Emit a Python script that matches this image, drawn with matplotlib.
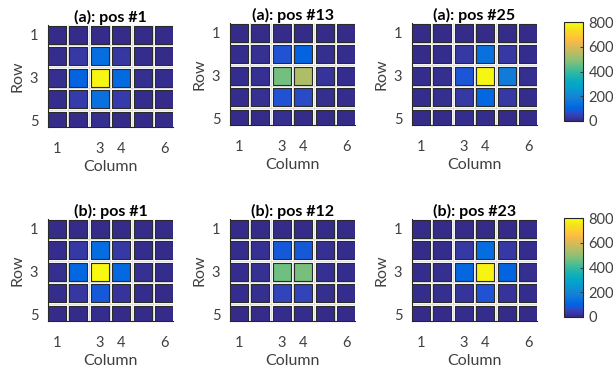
import numpy as np
import matplotlib
matplotlib.use("Agg")
import matplotlib.pyplot as plt
from matplotlib.colors import LinearSegmentedColormap

plt.rcParams['font.family'] = ['Lato', 'DejaVu Sans']

rows = [1, 2, 3, 4, 5]
cols = [1, 2, 3, 4, 5, 6]
titles = ["(a): pos #1", "(a): pos #13", "(a): pos #25",
          "(b): pos #1", "(b): pos #12", "(b): pos #23"]

# counts per cell (row 1..5, column 1..6)
a_pos1 = [[5, 5, 5, 5, 5, 5],
          [8, 30, 130, 25, 8, 5],
          [12, 100, 780, 120, 12, 8],
          [8, 35, 140, 35, 8, 5],
          [5, 5, 10, 5, 5, 5]]
a_pos13 = [[5, 5, 5, 5, 5, 5],
           [8, 15, 75, 100, 12, 8],
           [8, 15, 465, 535, 20, 8],
           [8, 15, 75, 65, 10, 8],
           [5, 5, 10, 5, 5, 5]]
a_pos25 = [[5, 5, 5, 5, 5, 5],
           [5, 8, 30, 140, 30, 8],
           [8, 10, 80, 780, 170, 10],
           [8, 10, 30, 110, 30, 8],
           [5, 5, 8, 8, 5, 5]]
b_pos1 = [[5, 5, 5, 5, 5, 5],
          [8, 30, 125, 30, 8, 5],
          [10, 110, 790, 115, 15, 8],
          [8, 25, 85, 20, 8, 5],
          [5, 5, 8, 5, 5, 5]]
b_pos12 = [[5, 5, 5, 5, 5, 5],
           [8, 15, 85, 85, 15, 8],
           [8, 15, 460, 470, 15, 8],
           [8, 12, 50, 50, 12, 8],
           [5, 5, 8, 8, 5, 5]]
b_pos23 = [[5, 5, 5, 5, 5, 5],
           [5, 8, 30, 125, 30, 8],
           [8, 10, 110, 775, 105, 10],
           [8, 10, 20, 75, 20, 8],
           [5, 5, 8, 8, 5, 5]]
panels = [a_pos1, a_pos13, a_pos25, b_pos1, b_pos12, b_pos23]

# parula (sampled)
parula = LinearSegmentedColormap.from_list("parula", [
    (0.2081, 0.1663, 0.5292), (0.2123, 0.2138, 0.6270), (0.1959, 0.2645, 0.7279),
    (0.1253, 0.3242, 0.8303), (0.0117, 0.3875, 0.8820), (0.0165, 0.4266, 0.8786),
    (0.0498, 0.4586, 0.8641), (0.0723, 0.4887, 0.8467), (0.0793, 0.5200, 0.8312),
    (0.0641, 0.5570, 0.8240), (0.0343, 0.5966, 0.8199), (0.0239, 0.6287, 0.8038),
    (0.0228, 0.6535, 0.7768), (0.0384, 0.6743, 0.7436), (0.0843, 0.6928, 0.7062),
    (0.1453, 0.7098, 0.6646), (0.2178, 0.7250, 0.6193), (0.3022, 0.7376, 0.5712),
    (0.3953, 0.7459, 0.5244), (0.4871, 0.7491, 0.4840), (0.5709, 0.7485, 0.4494),
    (0.6473, 0.7456, 0.4188), (0.7184, 0.7411, 0.3905), (0.7858, 0.7356, 0.3633),
    (0.8507, 0.7299, 0.3360), (0.9139, 0.7258, 0.3063), (0.9739, 0.7314, 0.2666),
    (0.9990, 0.7653, 0.2164), (0.9880, 0.8066, 0.1794), (0.9697, 0.8481, 0.1475),
    (0.9589, 0.8949, 0.1132), (0.9661, 0.9514, 0.0755), (0.9763, 0.9831, 0.0538)])

grey = '#404040'
fig = plt.figure(figsize=(6.13, 3.70), dpi=100)

# axes boxes in pixels: left, top
boxes = [(48, 25), (230, 23), (412, 23), (48, 219), (230, 219), (412, 219)]
W, H = 125, 102

X, Y = np.meshgrid(cols, rows)
for vals, title, (lx, ty) in zip(panels, titles, boxes):
    ax = fig.add_axes([lx / 613, 1 - (ty + H) / 370, W / 613, H / 370])
    sc = ax.scatter(X.ravel(), Y.ravel(), c=np.array(vals).ravel(), cmap=parula,
                    vmin=0, vmax=800, marker='s', s=170, edgecolors='#2a2a2a',
                    linewidths=0.8, zorder=3)
    ax.set_xlim(0.58, 6.42)
    ax.set_ylim(5.3, 0.55)
    ax.set_xticks([1, 3, 4, 6])
    ax.set_yticks([1, 3, 5])
    ax.set_xticks(np.arange(1.5, 6, 1), minor=True)
    ax.set_yticks(np.arange(1.5, 5, 1), minor=True)
    ax.grid(which='minor', color='#dcdcdc', linewidth=0.6, zorder=0)
    ax.tick_params(which='both', length=0, labelsize=10.5, colors=grey)
    ax.tick_params(axis='x', pad=11)
    ax.tick_params(axis='y', pad=7)
    for s in ['top', 'right']:
        ax.spines[s].set_visible(False)
    for s in ['left', 'bottom']:
        ax.spines[s].set_color('#262626')
        ax.spines[s].set_linewidth(0.8)
    ax.set_title(title, fontsize=11.5, fontweight='bold', pad=-1, color='black')
    ax.set_xlabel("Column", fontsize=11.5, color=grey, labelpad=3)
    ax.set_ylabel("Row", fontsize=11.5, color=grey, labelpad=4)

for ty in [22, 218]:
    cax = fig.add_axes([564 / 613, 1 - (ty + 99) / 370, 19 / 613, 99 / 370])
    cb = fig.colorbar(sc, cax=cax, ticks=[0, 200, 400, 600, 800])
    cb.outline.set_linewidth(0.8)
    cb.outline.set_edgecolor('#262626')
    cax.tick_params(direction='in', length=2.5, labelsize=10.5, colors=grey, pad=4)

fig.savefig("out.png", dpi=100)
